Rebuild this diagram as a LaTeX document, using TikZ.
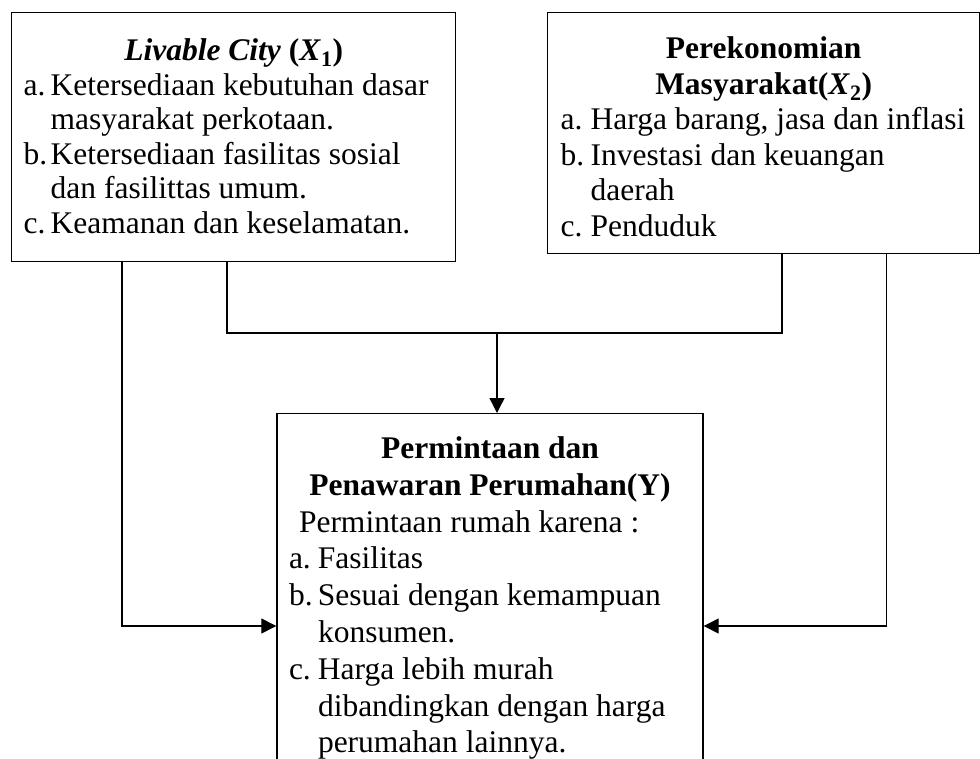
\documentclass[tikz,border=0pt]{standalone}
\usepackage{fontspec}
\setmainfont{Liberation Serif}
\usetikzlibrary{arrows.meta}

\tikzset{
  kotak/.style={draw, rectangle, line width=1.4pt, inner xsep=12pt, inner ysep=0pt},
  garis/.style={line width=1.3pt, line join=miter},
  panah/.style={garis, -{Triangle[length=15pt,width=15pt]}}
}
\newcommand{\turun}[2]{\raisebox{-#1}[\height][\depth]{#2}}

\begin{document}
\begin{tikzpicture}[x=1pt,y=-1pt]
	\useasboundingbox (0,0) rectangle (980,758);
	\clip (0,0) rectangle (980,758);
	\node[kotak, anchor=north west, minimum width=444pt, minimum height=249pt,
	      font=\fontsize{31.5}{34.5}\selectfont] (livable) at (11,12) {\turun{3pt}{%
	\begin{tabular}{@{}p{27pt}@{}l@{}}
	\multicolumn{2}{@{}c@{}}{\makebox[420pt]{\textbf{\textit{Livable City} (\textit{X}\textsubscript{1})}}}\\
	a. & Ketersediaan kebutuhan dasar\\
	   & masyarakat perkotaan.\\
	b. & Ketersediaan fasilitas sosial\\
	   & dan fasilittas umum.\\
	c. & Keamanan dan keselamatan.
	\end{tabular}}};
	\node[kotak, anchor=north west, minimum width=432pt, minimum height=241pt,
	      font=\fontsize{31.5}{35.5}\selectfont] (ekonomi) at (547,12) {\turun{7pt}{%
	\begin{tabular}{@{}p{30pt}@{}l@{}}
	\multicolumn{2}{@{}c@{}}{\makebox[406pt]{\textbf{Perekonomian}}}\\
	\multicolumn{2}{@{}c@{}}{\makebox[406pt]{\textbf{Masyarakat(\textit{X}\textsubscript{2})}}}\\
	a. & Harga barang, jasa dan inflasi\\
	b. & Investasi dan keuangan\\
	   & daerah\\
	c. & Penduduk
	\end{tabular}}};
	\node[kotak, anchor=north, inner ysep=19pt, minimum width=426pt,
	      font=\fontsize{31.5}{36.8}\selectfont] (perumahan) at (490,413) {%
	\begin{tabular}{@{}p{29pt}@{}l@{}}
	\multicolumn{2}{@{}c@{}}{\makebox[402pt]{\textbf{Permintaan dan}}}\\
	\multicolumn{2}{@{}c@{}}{\makebox[402pt]{\textbf{Penawaran Perumahan(Y)}}}\\
	\multicolumn{2}{@{}l@{}}{\hspace{10pt}Permintaan rumah karena :}\\
	a. & Fasilitas\\
	b. & Sesuai dengan kemampuan\\
	   & konsumen.\\
	c. & Harga lebih murah\\
	   & dibandingkan dengan harga\\
	   & perumahan lainnya.
	\end{tabular}};
	\coordinate (temu) at ([yshift=80pt]perumahan.north);
	\coordinate (masukkiri) at ([yshift=-213pt]perumahan.north west);
	\coordinate (masukkanan) at ([yshift=-213pt]perumahan.north east);
	\draw[garis] ([xshift=216pt]livable.south west) |- (temu) -| ([xshift=235pt]ekonomi.south west);
	\draw[panah] ([xshift=7pt]temu) -- ([xshift=7pt]perumahan.north);
	\draw[panah] ([xshift=111pt]livable.south west) |- (masukkiri);
	\draw[panah] ([xshift=-94pt]ekonomi.south east) |- (masukkanan);
\end{tikzpicture}
\end{document}
